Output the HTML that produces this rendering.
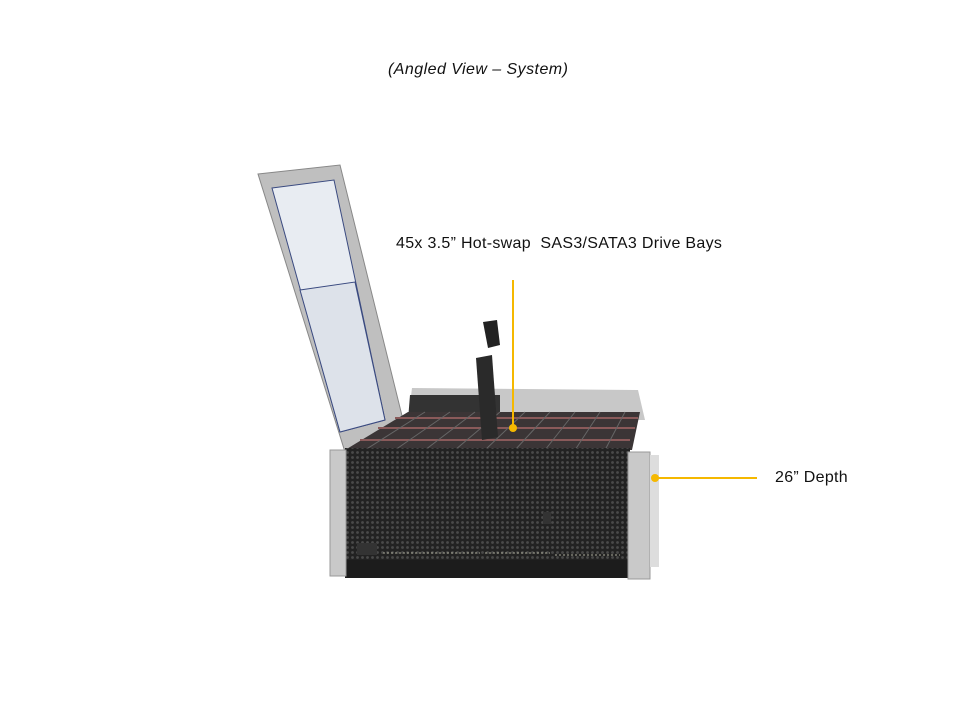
<!DOCTYPE html>
<html><head><meta charset="utf-8"><style>
body{margin:0;width:960px;height:720px;background:#fff;overflow:hidden;position:relative;font-family:"Liberation Sans",sans-serif;}
.t{position:absolute;color:#111;font-size:16px;white-space:nowrap;}
</style></head><body>
<div class="t" style="left:388px;top:61px;font-style:italic;letter-spacing:0.45px;">(Angled View – System)</div>
<div class="t" style="left:396px;top:235px;letter-spacing:0.3px;">45x 3.5” Hot-swap&nbsp; SAS3/SATA3 Drive Bays</div>
<div class="t" style="left:775px;top:469px;letter-spacing:0.3px;">26” Depth</div>
<svg width="960" height="720" style="position:absolute;left:0;top:0">
<defs>
<pattern id="hex" width="5" height="5" patternUnits="userSpaceOnUse"><rect width="5" height="5" fill="#222"/><circle cx="2.5" cy="2.5" r="1.4" fill="#4a4a4a"/></pattern>
</defs>
<polygon points="258,174 340,165 408,440 345,452" fill="#bfbfbf" stroke="#888"/>
<polygon points="272,188 334,180 385,420 340,432" fill="#e8ecf2" stroke="#3a4a80"/>
<polygon points="300,290 355,282 385,420 340,432" fill="#dde2ea" stroke="#3a4a80"/>
<polygon points="412,388 638,390 645,420 408,420" fill="#c8c8c8"/>
<polygon points="410,395 500,395 500,420 408,420" fill="#333"/>
<polygon points="408,412 640,412 632,450 345,450" fill="#3b3536"/>
<g stroke="#8a5a5a" stroke-width="2">
<line x1="360" y1="440" x2="630" y2="440"/><line x1="378" y1="428" x2="635" y2="428"/><line x1="395" y1="418" x2="638" y2="418"/>
</g>
<g stroke="#666" stroke-width="1">
<line x1="365" y1="450" x2="425" y2="412"/><line x1="395" y1="450" x2="450" y2="412"/><line x1="425" y1="450" x2="475" y2="412"/><line x1="455" y1="450" x2="500" y2="412"/><line x1="485" y1="450" x2="525" y2="412"/><line x1="515" y1="450" x2="550" y2="412"/><line x1="545" y1="450" x2="575" y2="412"/><line x1="575" y1="450" x2="600" y2="412"/><line x1="605" y1="450" x2="625" y2="412"/>
</g>
<rect x="345" y="448" width="285" height="130" fill="url(#hex)"/>
<rect x="345" y="560" width="285" height="18" fill="#1c1c1c"/>
<rect x="357" y="543" width="20" height="12" fill="#333"/>
<line x1="383" y1="553" x2="480" y2="553" stroke="#aa9" stroke-dasharray="2,2"/>
<line x1="485" y1="553" x2="550" y2="553" stroke="#aa9" stroke-dasharray="2,2"/>
<line x1="555" y1="555" x2="620" y2="555" stroke="#aa9" stroke-dasharray="2,2"/>
<rect x="543" y="512" width="8" height="12" fill="#333"/>
<rect x="330" y="450" width="16" height="126" fill="#c9c9c9" stroke="#999"/>
<rect x="628" y="452" width="22" height="127" fill="#c9c9c9" stroke="#999"/>
<rect x="650" y="455" width="9" height="112" fill="#ddd"/>
<polygon points="483,322 497,320 500,345 488,348" fill="#222"/>
<polygon points="476,358 492,355 498,437 482,440" fill="#2a2a2a"/>
<line x1="513" y1="280" x2="513" y2="428" stroke="#f5b800" stroke-width="2"/>
<circle cx="513" cy="428" r="4" fill="#f5b800"/>
<line x1="655" y1="478" x2="757" y2="478" stroke="#f5b800" stroke-width="2"/>
<circle cx="655" cy="478" r="4" fill="#f5b800"/>
</svg>
</body></html>
